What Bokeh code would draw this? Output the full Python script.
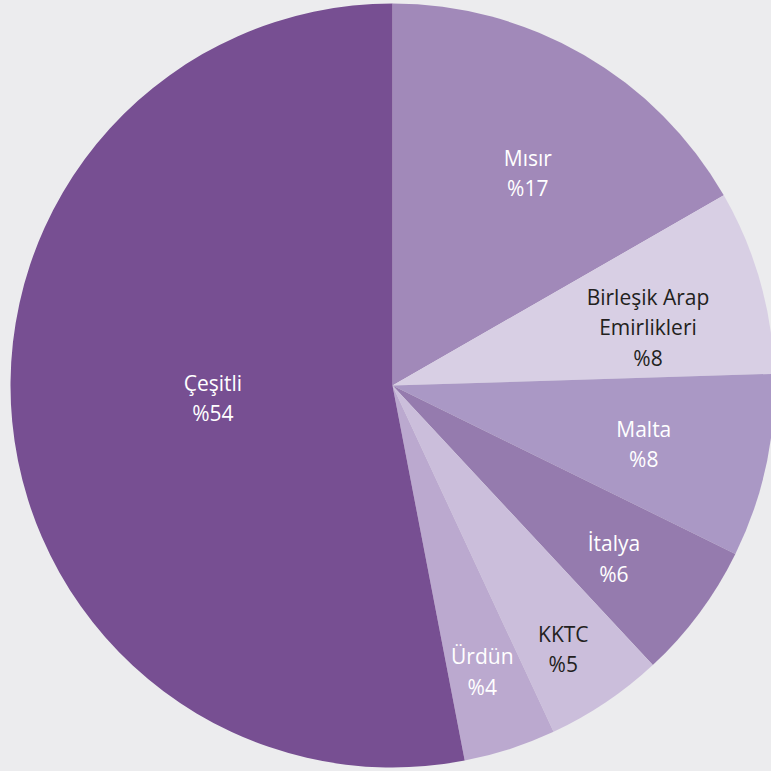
import math
from bokeh.plotting import figure
from bokeh.models import Range1d, ColumnDataSource
from bokeh.core.properties import value
from bokeh.embed import file_html
from bokeh.resources import INLINE

# --- data ---
categories = ["Mısır", "Birleşik Arap\nEmirlikleri", "Malta", "İtalya", "KKTC", "Ürdün", "Çeşitli"]
shares = [16.7, 7.8, 7.75, 5.8, 5.0, 3.9, 53.0]
share_labels = ["%17", "%8", "%8", "%6", "%5", "%4", "%54"]

# --- styles / layout ---
colors = ["#a189b9", "#d8cfe4", "#aa98c5", "#957bae", "#cbbedb", "#bba9cf", "#774f92"]
text_colors = ["#ffffff", "#231f20", "#ffffff", "#ffffff", "#231f20", "#ffffff", "#ffffff"]
label_radius = [252, 262, 258, 281, 314, 300, 180]
label_angle_shift = [-2.4, -3.0, -0.9, -1.4, -1.0, -0.5, -1.5]
BG = "#ececee"
R = 382

total = sum(shares)
starts, ends, lx, ly, texts = [], [], [], [], []
cum = 0.0
for i, v in enumerate(shares):
    a0 = 90 - cum / total * 360
    cum += v
    a1 = 90 - cum / total * 360
    starts.append(math.radians(a0))
    ends.append(math.radians(a1))
    mid = math.radians((a0 + a1) / 2 + label_angle_shift[i])
    lx.append(label_radius[i] * math.cos(mid))
    ly.append(label_radius[i] * math.sin(mid))
    texts.append(categories[i] + "\n" + share_labels[i])

wsrc = ColumnDataSource(dict(start=starts, end=ends, color=colors))
tsrc = ColumnDataSource(dict(x=lx, y=ly, text=texts, tc=text_colors))

p = figure(width=771, height=771, output_backend="svg", toolbar_location=None,
           x_range=Range1d(-392, 379), y_range=Range1d(-386, 385),
           min_border=0, background_fill_color=BG, border_fill_color=BG)
p.axis.visible = False
p.grid.visible = False
p.outline_line_color = None

p.wedge(x=0, y=0, radius=R, start_angle="start", end_angle="end", direction="clock",
        fill_color="color", line_color=None, source=wsrc)
p.text(x="x", y="y", text="text", source=tsrc, text_color="tc",
       text_font=value("Open Sans"), text_font_size="21px", text_align="center",
       text_baseline="middle", text_line_height=1.09)

html = file_html(p, INLINE)
html = html.replace("<head>", "<head><style>html,body{margin:0;padding:0;background:%s;}</style>" % BG, 1)
open("out.html", "w").write(html)
